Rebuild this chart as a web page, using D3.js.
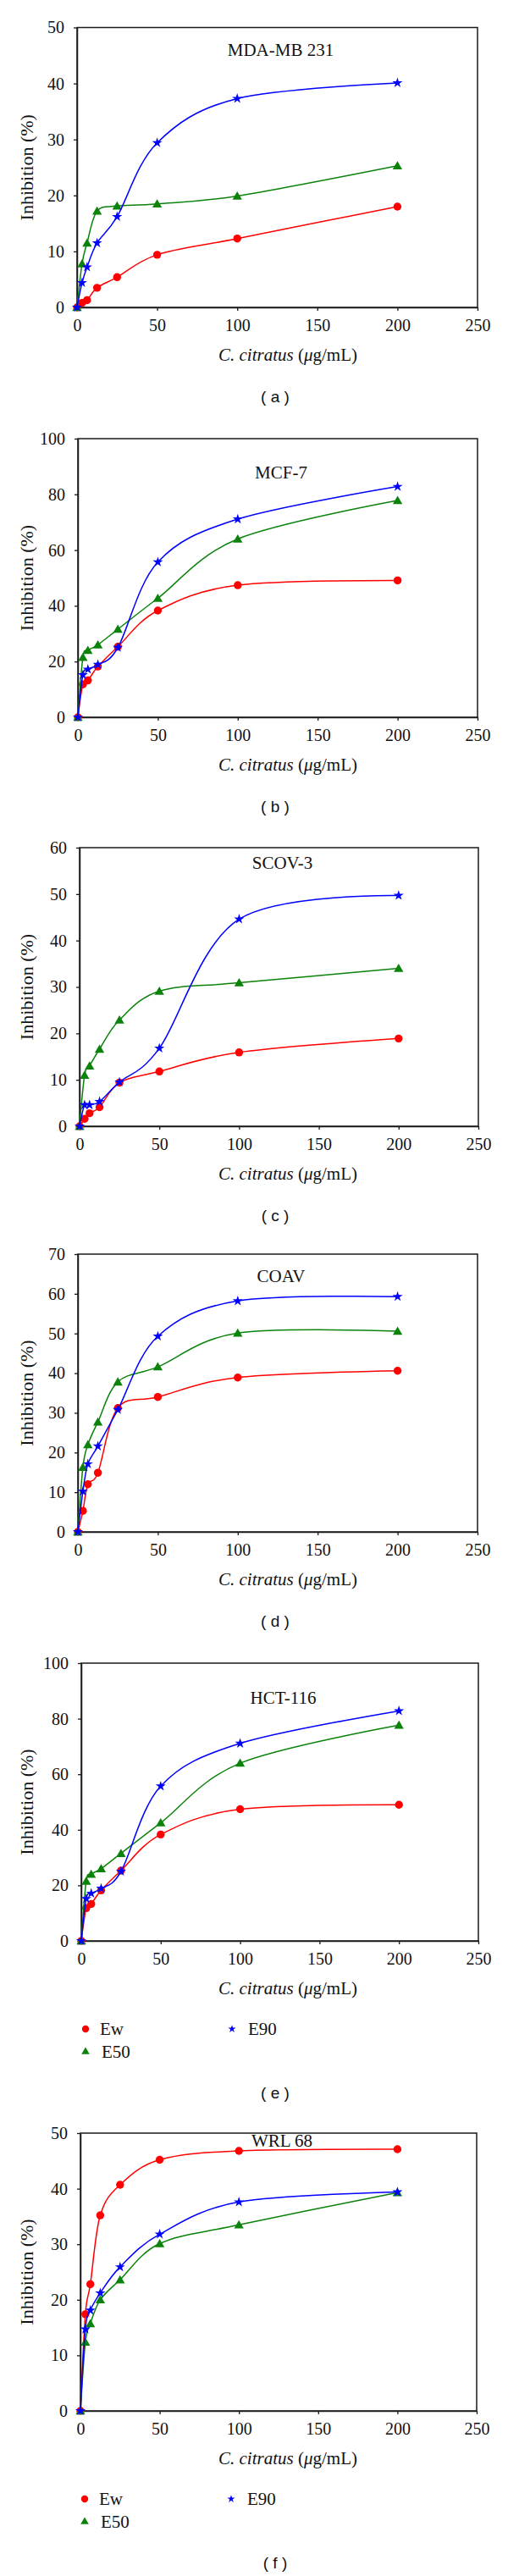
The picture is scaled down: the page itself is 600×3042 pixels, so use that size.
<!DOCTYPE html>
<html>
<head>
<meta charset="utf-8">
<script src="https://cdn.jsdelivr.net/npm/d3@7"></script>
<style>
  html, body { margin: 0; padding: 0; background: #fff; }
  svg { display: block; }
</style>
</head>
<body>
<svg id="chart" width="600" height="3042"></svg>
<script>
// ---------- DATA ----------
const concentrations = [0, 3.125, 6.25, 12.5, 25, 50, 100, 200];
const xTicks = [0, 50, 100, 150, 200, 250];
const seriesNames = ["Ew", "E50", "E90"];

// (a) MDA-MB 231
const mdaEw  = [0, 0.8, 1.3, 3.5, 5.4, 9.4, 12.3, 18.0];
const mdaE50 = [0, 7.8, 11.5, 17.2, 18.1, 18.5, 19.9, 25.3];
const mdaE90 = [0, 4.4, 7.2, 11.5, 16.2, 29.4, 37.3, 40.1];
const mdaYTicks = [0, 10, 20, 30, 40, 50];

// (b) MCF-7
const mcfEw  = [0, 11.8, 13.2, 18.2, 25.3, 38.3, 47.4, 49.1];
const mcfE50 = [0, 21.5, 24.0, 26.0, 31.6, 42.7, 64.0, 77.8];
const mcfE90 = [0, 15.2, 17.2, 18.9, 25.0, 55.7, 71.1, 82.8];
const mcfYTicks = [0, 20, 40, 60, 80, 100];

// (c) SCOV-3
const scovEw  = [0, 1.6, 2.8, 4.1, 9.4, 11.8, 15.9, 18.9];
const scovE50 = [0, 11.0, 13.0, 16.6, 22.9, 29.1, 30.9, 34.0];
const scovE90 = [0, 4.6, 4.6, 5.3, 9.5, 16.8, 44.6, 49.7];
const scovYTicks = [0, 10, 20, 30, 40, 50, 60];

// (d) COAV
const coavEw  = [0, 5.3, 12.0, 14.9, 31.2, 34.0, 38.9, 40.6];
const coavE50 = [0, 16.3, 22.0, 27.7, 37.8, 41.6, 50.1, 50.6];
const coavE90 = [0, 10.2, 17.1, 21.6, 30.8, 49.3, 58.2, 59.3];
const coavYTicks = [0, 10, 20, 30, 40, 50, 60, 70];

// (e) HCT-116
const hctEw  = [0, 11.8, 13.3, 18.2, 25.3, 38.3, 47.4, 49.0];
const hctE50 = [0, 21.5, 24.0, 26.0, 31.5, 42.5, 64.0, 77.7];
const hctE90 = [0, 15.2, 17.1, 18.9, 25.0, 55.7, 71.1, 82.8];
const hctYTicks = [0, 20, 40, 60, 80, 100];

// (f) WRL 68
const wrlEw  = [0, 17.4, 22.8, 35.2, 40.7, 45.2, 46.8, 47.1];
const wrlE50 = [0, 12.4, 15.7, 20.0, 23.6, 30.1, 33.5, 39.3];
const wrlE90 = [0, 14.7, 18.1, 21.2, 25.9, 31.8, 37.6, 39.4];
const wrlYTicks = [0, 10, 20, 30, 40, 50];

// ---------- LAYOUT / STYLE ----------
const colors = { Ew: "#ff0000", E50: "#0b830b", E90: "#0000ff" };
const serif = "'Liberation Serif', 'Times New Roman', serif";
const sans = "'Liberation Sans', Arial, sans-serif";

const panels = [
  { letter: "a", title: "MDA-MB 231", s: [mdaEw, mdaE50, mdaE90], yt: mdaYTicks, left: 91, right: 564, top: 32.5, bottom: 363, titleDy: 26, legend: false },
  { letter: "b", title: "MCF-7", s: [mcfEw, mcfE50, mcfE90], yt: mcfYTicks, left: 92, right: 564, top: 518, bottom: 847, titleDy: 40, legend: false },
  { letter: "c", title: "SCOV-3", s: [scovEw, scovE50, scovE90], yt: scovYTicks, left: 94, right: 565, top: 1001, bottom: 1330, titleDy: 18, legend: false },
  { letter: "d", title: "COAV", s: [coavEw, coavE50, coavE90], yt: coavYTicks, left: 92, right: 564, top: 1481, bottom: 1809, titleDy: 26, legend: false },
  { letter: "e", title: "HCT-116", s: [hctEw, hctE50, hctE90], yt: hctYTicks, left: 96, right: 565, top: 1964, bottom: 2292, titleDy: 41, legend: true },
  { letter: "f", title: "WRL 68", s: [wrlEw, wrlE50, wrlE90], yt: wrlYTicks, left: 95, right: 563, top: 2519, bottom: 2847, titleDy: 9, legend: true }
];

const svg = d3.select("#chart");

const markerSym = {
  Ew: d3.symbol().type(d3.symbolCircle),
  E50: d3.symbol().type(d3.symbolTriangle),
  E90: d3.symbol().type(d3.symbolStar)
};
const markerSize = { Ew: 70, E50: 55, E90: 45 };
const legendSize = { Ew: 55, E50: 40, E90: 26 };

panels.forEach(p => {
  const g = svg.append("g");
  const x = d3.scaleLinear().domain([0, 250]).range([p.left, p.right]);
  const yMax = p.yt[p.yt.length - 1];
  const y = d3.scaleLinear().domain([0, yMax]).range([p.bottom, p.top]);

  // Frame
  g.append("rect")
    .attr("x", p.left).attr("y", p.top)
    .attr("width", p.right - p.left).attr("height", p.bottom - p.top)
    .attr("fill", "none").attr("stroke", "#1a1a1a").attr("stroke-width", 1.5);

  // Axes
  const xa = g.append("g").attr("transform", `translate(0,${p.bottom})`)
    .call(d3.axisBottom(x).tickValues(xTicks).tickSize(4).tickPadding(10).tickSizeOuter(0));
  const ya = g.append("g").attr("transform", `translate(${p.left},0)`)
    .call(d3.axisLeft(y).tickValues(p.yt).tickSize(4).tickPadding(11).tickSizeOuter(0));
  [xa, ya].forEach(a => {
    a.select(".domain").attr("stroke", "#1a1a1a").attr("stroke-width", 1.5);
    a.selectAll(".tick line").attr("stroke", "#1a1a1a").attr("stroke-width", 1.3);
    a.selectAll(".tick text").attr("fill", "#111")
      .style("font-family", serif).style("font-size", "20px");
  });

  // Title inside plot
  g.append("text")
    .attr("x", (p.left + p.right) / 2 + 4)
    .attr("y", p.top + p.titleDy + 7)
    .attr("text-anchor", "middle")
    .style("font-family", serif).style("font-size", "21px").attr("fill", "#111")
    .text(p.title);

  // Y label
  g.append("text")
    .attr("transform", `translate(39,${(p.top + p.bottom) / 2}) rotate(-90)`)
    .attr("text-anchor", "middle")
    .style("font-family", serif).style("font-size", "22px").attr("fill", "#111")
    .text("Inhibition (%)");

  // X label
  const xl = g.append("text")
    .attr("x", 340).attr("y", p.bottom + 56 + 7)
    .attr("text-anchor", "middle")
    .style("font-family", serif).style("font-size", "21px").attr("fill", "#111");
  xl.append("tspan").style("font-style", "italic").text("C. citratus");
  xl.append("tspan").text(" (");
  xl.append("tspan").style("font-style", "italic").text("\u03bc");
  xl.append("tspan").text("g/mL)");

  // Series
  const line = d3.line()
    .x((d, i) => x(concentrations[i]))
    .y(d => y(d))
    .curve(d3.curveCatmullRom.alpha(0));

  seriesNames.forEach((name, k) => {
    const vals = p.s[k];
    g.append("path").datum(vals)
      .attr("d", line).attr("fill", "none")
      .attr("stroke", colors[name]).attr("stroke-width", 1.5);
    g.selectAll(null).data(vals).enter().append("path")
      .attr("transform", (d, i) => `translate(${x(concentrations[i])},${y(d) + (name === "E50" ? 1 : 0)})`)
      .attr("d", markerSym[name].size(markerSize[name]))
      .attr("fill", colors[name]);
  });

  // Legend
  let letterDy = 106;
  if (p.legend) {
    const lx0 = p.left + 5, lx1 = p.left + 178;
    const ly0 = p.bottom + 104, ly1 = p.bottom + 131;
    const items = [
      { name: "Ew", mx: lx0, my: ly0, tx: lx0 + 17 },
      { name: "E90", mx: lx1, my: ly0, tx: lx1 + 19 },
      { name: "E50", mx: lx0, my: ly1, tx: lx0 + 19 }
    ];
    items.forEach(it => {
      g.append("path")
        .attr("transform", `translate(${it.mx},${it.my})`)
        .attr("d", markerSym[it.name].size(legendSize[it.name]))
        .attr("fill", colors[it.name]);
      g.append("text")
        .attr("x", it.tx).attr("y", it.my + 7)
        .style("font-family", serif).style("font-size", "21px").attr("fill", "#111")
        .text(it.name);
    });
    letterDy = 180;
  }

  // Panel letter
  g.append("text")
    .attr("x", 325).attr("y", p.bottom + letterDy + 6)
    .attr("text-anchor", "middle")
    .style("font-family", sans).style("font-size", "19px").attr("fill", "#111")
    .text(`( ${p.letter} )`);
});
</script>
</body>
</html>
